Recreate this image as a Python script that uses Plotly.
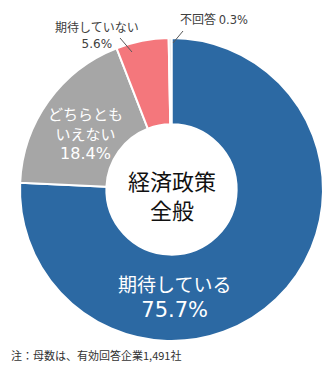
import plotly.graph_objects as go

# Survey responses on economic policy overall
categories = ["期待している", "どちらともいえない", "期待していない", "不回答"]
shares = [75.7, 18.4, 5.6, 0.3]
label_lines = ["期待している", "どちらとも<br>いえない", "期待していない", "不回答"]
colors = ["#2C69A3", "#A6A6A6", "#F4777C", "#E3E3E3"]
center_title = "経済政策<br>全般"
footnote = "注：母数は、有効回答企業1,491社"

W, H = 336, 366
FONT = "Noto Sans CJK JP"
NUM_FONT = "DejaVu Sans"


def px(x, y):
    """pixel position -> paper coordinates"""
    return x / W, 1 - y / H


def pct(v, size):
    return f'<span style="font-family:{NUM_FONT};font-size:{size}px">{v}%</span>'


fig = go.Figure(
    go.Pie(
        labels=categories,
        values=shares,
        sort=False,
        direction="clockwise",
        rotation=0,
        hole=0.43,
        marker=dict(colors=colors, line=dict(color="white", width=2)),
        textinfo="none",
        hoverinfo="label+percent",
        domain=dict(x=[20 / W, 323 / W], y=[1 - 341 / H, 1 - 38 / H]),
        showlegend=False,
    )
)

anns = []


def add(text, x, y, size, color, xanchor="center"):
    ax, ay = px(x, y)
    anns.append(dict(text=text, x=ax, y=ay, xref="paper", yref="paper",
                     showarrow=False, xanchor=xanchor, yanchor="middle",
                     font=dict(family=FONT, size=size, color=color)))


# labels inside the large slices
add(f"{label_lines[0]}<br>{pct(shares[0], 21)}", 174, 296, 19, "white")
add(f"{label_lines[1]}<br>{pct(shares[1], 16)}", 85, 133, 15, "white")
# labels outside the small slices
add(f"{label_lines[2]}<br>{pct(shares[2], 12)}", 97, 34, 12, "#404040")
add(f"{label_lines[3]} {pct(shares[3], 11.5)}", 214, 19, 12, "#404040")
# hole title
add(center_title, 172, 194, 22, "#111111")
# footnote
add(footnote, 9, 355, 11, "#333333", xanchor="left")

shapes = []
for (x0, y0, x1, y1) in [(120, 38, 132, 52), (183, 31, 173, 43)]:
    a0, b0 = px(x0, y0)
    a1, b1 = px(x1, y1)
    shapes.append(dict(type="line", xref="paper", yref="paper", x0=a0, y0=b0,
                       x1=a1, y1=b1, line=dict(color="#595959", width=1)))

fig.update_layout(
    width=W, height=H,
    margin=dict(l=0, r=0, t=0, b=0),
    paper_bgcolor="white",
    plot_bgcolor="white",
    annotations=anns,
    shapes=shapes,
)

fig.write_html("out.html")
